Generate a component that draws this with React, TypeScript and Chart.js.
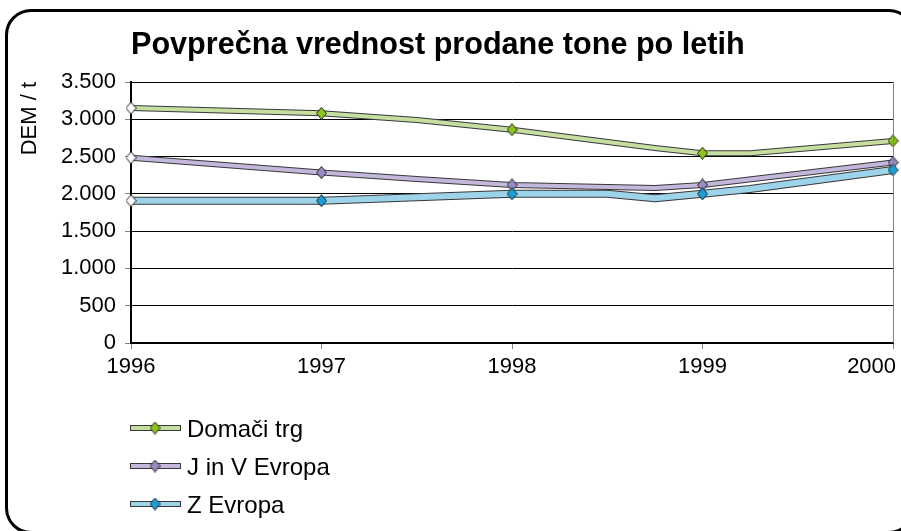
import { useEffect, useRef } from 'react';
import { Chart, registerables } from 'chart.js';

Chart.register(...registerables);

const TITLE = 'Povprečna vrednost prodane tone po letih';
const Y_TITLE = 'DEM / t';
const SERIES_NAMES = ['Domači trg', 'J in V Evropa', 'Z Evropa'];

const YEAR_MIN = 1996;
const YEAR_MAX = 2000;
const Y_MIN = 0;
const Y_MAX = 3500;
const Y_STEP = 500;

const DOMACI_X = [1996, 1997, 1997.5, 1998, 1998.75, 1999, 1999.25, 2000];
const DOMACI_Y = [3150, 3080, 2990, 2860, 2615, 2545, 2545, 2710];

const JV_X = [1996, 1997, 1997.5, 1998, 1998.75, 1999, 2000];
const JV_Y = [2485, 2285, 2200, 2120, 2080, 2120, 2420];

const Z_X = [1996, 1997, 1998, 1998.5, 1998.75, 1999, 1999.25, 2000];
const Z_Y = [1908, 1908, 2000, 2000, 1940, 2000, 2065, 2320];

const INNER_COLORS = ['#c6dfa0', '#c3b8dc', '#9dd4ea'];
const MARKER_COLORS = ['#8cc41e', '#9a8ac4', '#1a9fd6'];
const OUTLINE_COLOR = '#383838';
const OUTLINE_WIDTHS = [6, 6, 8];
const INNER_WIDTHS = [4, 4, 6];

const FONT = '"Liberation Sans", Arial, sans-serif';

function fmtThousands(v: number): string {
  return String(v).replace(/\B(?=(\d{3})+(?!\d))/g, '.');
}

function diamond(fill: string, w = 11, h = 13): HTMLCanvasElement {
  const c = document.createElement('canvas');
  c.width = w;
  c.height = h;
  const g = c.getContext('2d')!;
  g.beginPath();
  g.moveTo(w / 2, 0.5);
  g.lineTo(w - 0.5, h / 2);
  g.lineTo(w / 2, h - 0.5);
  g.lineTo(0.5, h / 2);
  g.closePath();
  g.fillStyle = fill;
  g.fill();
  g.lineWidth = 1;
  g.strokeStyle = '#222';
  g.stroke();
  return c;
}

export default function App() {
  const ref = useRef<HTMLCanvasElement>(null);

  useEffect(() => {
    const canvas = ref.current!;
    const xs = [DOMACI_X, JV_X, Z_X];
    const ys = [DOMACI_Y, JV_Y, Z_Y];
    const hollow = diamond('#ffffff');
    const filled = MARKER_COLORS.map((c) => diamond(c));

    const datasets: any[] = [];
    for (let s = 0; s < 3; s++) {
      const pts = xs[s].map((x, i) => ({ x, y: ys[s][i] }));
      const base = 10 - s * 3;
      datasets.push({
        label: SERIES_NAMES[s] + '_outline',
        data: pts,
        borderColor: OUTLINE_COLOR,
        borderWidth: OUTLINE_WIDTHS[s],
        pointRadius: 0,
        tension: 0,
        borderJoinStyle: 'round',
        clip: false,
        order: base + 2,
      });
      datasets.push({
        label: SERIES_NAMES[s] + '_inner',
        data: pts,
        borderColor: INNER_COLORS[s],
        borderWidth: INNER_WIDTHS[s],
        pointRadius: 0,
        tension: 0,
        borderJoinStyle: 'round',
        clip: false,
        order: base + 1,
      });
      const markerPts = pts.filter((p) => Number.isInteger(p.x));
      datasets.push({
        label: SERIES_NAMES[s],
        data: markerPts,
        showLine: false,
        pointStyle: markerPts.map((p) => (p.x === YEAR_MIN ? hollow : filled[s])),
        pointRadius: 6,
        clip: false,
        order: base - 6,
      });
    }

    const extras = {
      id: 'extras',
      afterDraw(chart: any) {
        const { ctx, chartArea } = chart;
        ctx.save();
        ctx.strokeStyle = '#808080';
        ctx.lineWidth = 1;
        ctx.beginPath();
        ctx.moveTo(Math.round(chartArea.right) + 0.5, chartArea.top);
        ctx.lineTo(Math.round(chartArea.right) + 0.5, chartArea.bottom);
        ctx.stroke();

        const legendY = [428, 466, 504];
        for (let s = 0; s < 3; s++) {
          const y = legendY[s];
          ctx.lineCap = 'butt';
          ctx.strokeStyle = OUTLINE_COLOR;
          ctx.lineWidth = 6;
          ctx.beginPath();
          ctx.moveTo(130, y);
          ctx.lineTo(181, y);
          ctx.stroke();
          ctx.strokeStyle = INNER_COLORS[s];
          ctx.lineWidth = 4;
          ctx.beginPath();
          ctx.moveTo(131, y);
          ctx.lineTo(180, y);
          ctx.stroke();
          const img = filled[s];
          ctx.drawImage(img, 155 - img.width / 2, y - img.height / 2);
          ctx.fillStyle = '#000';
          ctx.font = `24px ${FONT}`;
          ctx.textAlign = 'left';
          ctx.textBaseline = 'alphabetic';
          ctx.fillText(SERIES_NAMES[s], 187, y + 9);
        }
        ctx.restore();
      },
    };

    const chart = new Chart(canvas, {
      type: 'line',
      data: { datasets },
      options: {
        responsive: false,
        animation: false,
        events: [],
        layout: { padding: { left: 8, top: 82, right: 8, bottom: 148 } },
        plugins: {
          legend: { display: false },
          tooltip: { enabled: false },
          title: { display: false },
        },
        scales: {
          x: {
            type: 'linear',
            min: YEAR_MIN,
            max: YEAR_MAX,
            ticks: {
              stepSize: 1,
              color: '#000',
              font: { family: FONT, size: 22 },
              padding: 5,
              maxRotation: 0,
              callback: (v: any) =>
                Number(v) === YEAR_MAX ? String(v) + '\u00a0\u00a0\u00a0\u00a0\u00a0\u00a0\u00a0' : String(v),
            },
            grid: {
              drawOnChartArea: false,
              drawTicks: true,
              tickLength: 6,
              tickColor: '#808080',
            },
            border: { display: true, color: '#000', width: 2 },
            afterFit: (scale: any) => {
              scale.height = 40;
              scale.paddingLeft = 0;
              scale.paddingRight = 0;
            },
          },
          y: {
            type: 'linear',
            min: Y_MIN,
            max: Y_MAX,
            ticks: {
              stepSize: Y_STEP,
              color: '#000',
              font: { family: FONT, size: 22 },
              padding: 9,
              callback: (v: any) => fmtThousands(Number(v)),
            },
            grid: {
              color: '#000',
              lineWidth: 1,
              tickLength: 6,
              tickColor: '#808080',
            },
            border: { display: true, color: '#000', width: 2 },
            title: {
              display: true,
              text: Y_TITLE,
              align: 'end',
              color: '#000',
              font: { family: FONT, size: 22 },
              padding: { top: 9, bottom: 0 },
            },
            afterFit: (scale: any) => {
              scale.width = 123;
            },
          },
        },
      },
      plugins: [extras],
    } as any);

    return () => chart.destroy();
  }, []);

  return (
    <div
      style={{
        position: 'absolute',
        left: 0,
        top: 0,
        width: 901,
        height: 531,
        overflow: 'hidden',
        background: '#fff',
      }}
    >
      <canvas ref={ref} width={901} height={531} style={{ position: 'absolute', left: 0, top: 0 }} />
      <div
        style={{
          position: 'absolute',
          left: 131,
          top: 28,
          font: `bold 30.6px ${FONT}`,
          lineHeight: '30px',
          whiteSpace: 'nowrap',
          color: '#000',
        }}
      >
        {TITLE}
      </div>
      <div
        style={{
          position: 'absolute',
          left: 5,
          top: 9,
          width: 910,
          height: 525,
          boxSizing: 'border-box',
          border: '3px solid #000',
          borderRadius: 26,
          pointerEvents: 'none',
        }}
      />
    </div>
  );
}
